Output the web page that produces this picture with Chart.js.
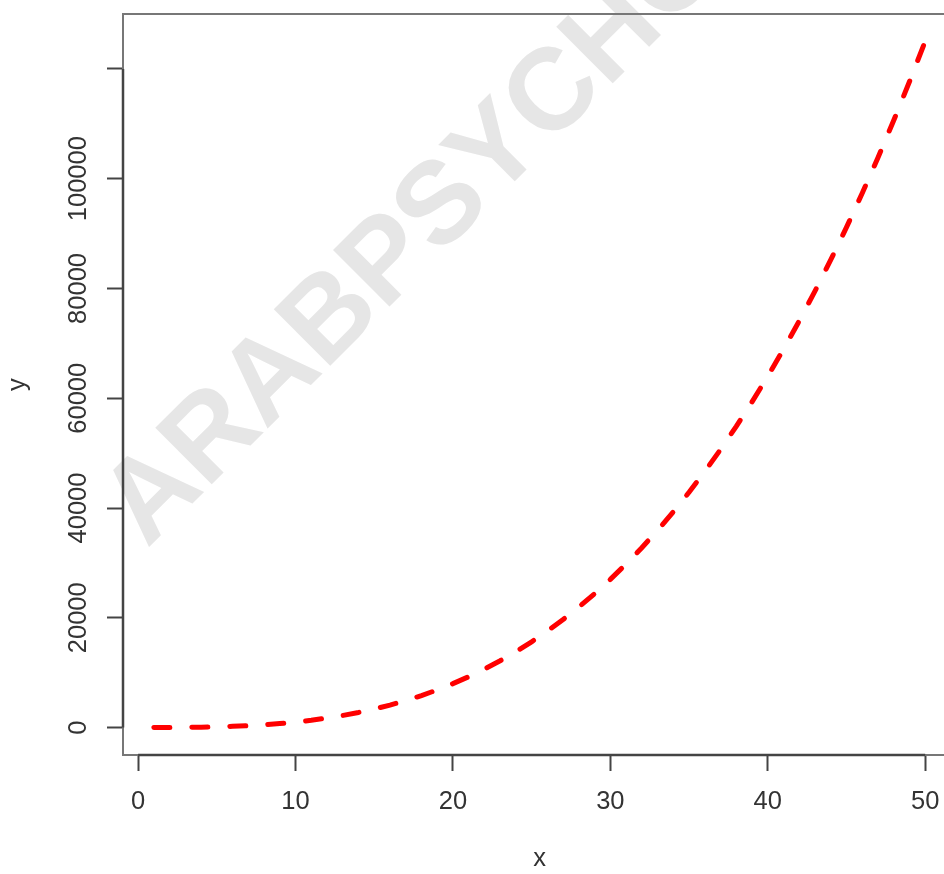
<!DOCTYPE html>
<html><head><meta charset="utf-8">
<script src="https://cdn.jsdelivr.net/npm/chart.js@4/dist/chart.umd.min.js"></script>
<style>
html,body{margin:0;padding:0;background:#fff;overflow:hidden;width:944px;height:874px}
#wrap{position:absolute;left:0;top:0;width:1000px;height:874px}
</style>
</head><body><div id="wrap"><canvas id="c" width="1000" height="874"></canvas></div>
<script>
const xValues = [1,2,3,4,5,6,7,8,9,10,11,12,13,14,15,16,17,18,19,20,21,22,23,24,25,26,27,28,29,30,31,32,33,34,35,36,37,38,39,40,41,42,43,44,45,46,47,48,49,50];
const yValues = [1,8,27,64,125,216,343,512,729,1000,1331,1728,2197,2744,3375,4096,4913,5832,6859,8000,9261,10648,12167,13824,15625,17576,19683,21952,24389,27000,29791,32768,35937,39304,42875,46656,50653,54872,59319,64000,68921,74088,79507,85184,91125,97336,103823,110592,117649,125000];
const xTicks = [0,10,20,30,40,50];
const yTicks = [0,20000,40000,60000,80000,100000,120000];
const yTickLabels = ['0','20000','40000','60000','80000','100000',''];
const xTitle = 'x';
const yTitle = 'y';
const watermarkText = 'ARABPSYCHOLOGY';

const FONT = '"Liberation Sans", Arial, sans-serif';
const FS = 25.5;

const decor = {
  id: 'decor',
  beforeDraw(chart) {
    const ctx = chart.ctx;
    ctx.save();
    ctx.fillStyle = '#fff';
    ctx.fillRect(0, 0, chart.width, chart.height);
    ctx.translate(147, 549);
    ctx.rotate(-Math.PI / 4);
    ctx.font = 'bold 116px ' + FONT;
    ctx.fillStyle = '#e6e6e6';
    ctx.textBaseline = 'alphabetic';
    ctx.fillText(watermarkText, 0, 0);
    ctx.restore();
  },
  afterDraw(chart) {
    const ctx = chart.ctx;
    const a = chart.chartArea;
    const xs = chart.scales.x, ys = chart.scales.y;
    ctx.save();
    ctx.strokeStyle = '#777';
    ctx.lineWidth = 2;
    ctx.strokeRect(a.left, a.top, a.right - a.left, a.bottom - a.top);
    ctx.strokeStyle = '#444';
    ctx.lineWidth = 2.5;
    ctx.beginPath();
    ctx.moveTo(a.left, ys.getPixelForValue(yTicks[0]));
    ctx.lineTo(a.left, ys.getPixelForValue(yTicks[yTicks.length - 1]));
    ctx.moveTo(xs.getPixelForValue(xTicks[0]), a.bottom);
    ctx.lineTo(xs.getPixelForValue(xTicks[xTicks.length - 1]), a.bottom);
    ctx.stroke();
    ctx.font = FS + 'px ' + FONT;
    ctx.fillStyle = '#333';
    ctx.textAlign = 'center';
    ctx.textBaseline = 'middle';
    ys.ticks.forEach(t => {
      const i = yTicks.indexOf(t.value);
      const py = ys.getPixelForValue(t.value);
      ctx.save();
      ctx.translate(79, py);
      ctx.rotate(-Math.PI / 2);
      ctx.fillText(yTickLabels[i], 0, 0);
      ctx.restore();
    });
    ctx.restore();
  }
};

new Chart(document.getElementById('c'), {
  type: 'line',
  data: {
    datasets: [{
      data: xValues.map((x, i) => ({ x: x, y: yValues[i] })),
      borderColor: '#f00',
      borderWidth: 5,
      borderDash: [16, 22],
      borderCapStyle: 'round',
      pointRadius: 0,
      tension: 0,
      fill: false
    }]
  },
  options: {
    responsive: false,
    animation: false,
    devicePixelRatio: 1,
    layout: { padding: { left: 0, top: 14, right: 44, bottom: 0 } },
    plugins: { legend: { display: false }, tooltip: { enabled: false } },
    scales: {
      x: {
        type: 'linear',
        min: -0.96, max: 51.96,
        afterBuildTicks: s => { s.ticks = xTicks.map(v => ({ value: v })); },
        afterFit: s => { s.height = 119; },
        border: { display: false },
        grid: { drawOnChartArea: false, drawTicks: true, tickLength: 16, tickColor: '#444', tickWidth: 2 },
        ticks: { color: '#333', font: { family: FONT, size: FS }, padding: 16, maxRotation: 0, autoSkip: false },
        title: { display: true, text: xTitle, color: '#333', font: { family: FONT, size: FS }, padding: 0 }
      },
      y: {
        type: 'linear',
        min: -4999.96, max: 129999.96,
        afterBuildTicks: s => { s.ticks = yTicks.map(v => ({ value: v })); },
        afterFit: s => { s.width = 123; },
        border: { display: false },
        grid: { drawOnChartArea: false, drawTicks: true, tickLength: 16, tickColor: '#444', tickWidth: 2 },
        ticks: { display: false },
        title: { display: true, text: yTitle, color: '#333', font: { family: FONT, size: FS }, padding: { top: 3, bottom: 0 } }
      }
    }
  },
  plugins: [decor]
});
</script>
</body></html>
